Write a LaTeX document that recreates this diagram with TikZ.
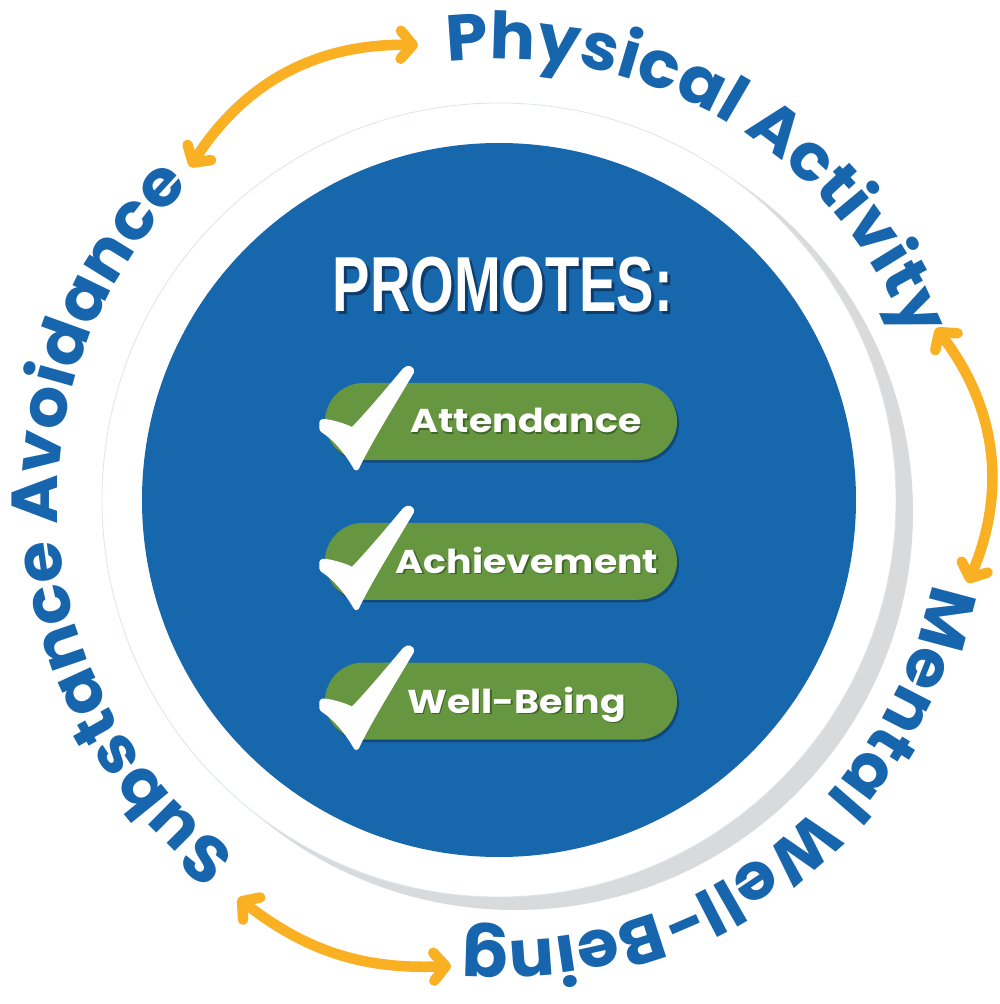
\documentclass[tikz,border=0pt]{standalone}
\usepackage{fontspec}
\usepackage{graphicx}
\usetikzlibrary{decorations.text,arrows.meta}
\newfontfamily\circfont{Poppins}[FakeStretch=1.04]
\newfontfamily\pillfont{Poppins}
\newfontfamily\promfont{Liberation Sans}
\definecolor{circblue}{HTML}{1767AD}
\definecolor{txtblue}{HTML}{1765AC}
\definecolor{arrorange}{HTML}{F9B123}
\definecolor{pillgreen}{HTML}{66963F}
\definecolor{pillshadow}{HTML}{11487C}
\definecolor{ringgrey}{HTML}{D9DADB}
\definecolor{rimline}{HTML}{DDE5EA}
\definecolor{promshadow}{HTML}{0E3C6A}
\definecolor{greentxtshadow}{HTML}{3F6427}
\newcommand\circtext{\circfont\bfseries\fontsize{65}{65}\selectfont}
\tikzset{
  pill/.style={fill=pillgreen, rounded corners=38.5pt, minimum width=352pt, minimum height=77pt, inner sep=0pt},
  pillsh/.style={fill=pillshadow, rounded corners=38.5pt, minimum width=352pt, minimum height=77pt, inner sep=0pt},
  pilltext/.style={text=white, font=\pillfont\bfseries\fontsize{33}{33}\selectfont, inner sep=0pt, anchor=base},
  pilltextsh/.style={text=greentxtshadow, font=\pillfont\bfseries\fontsize{33}{33}\selectfont, inner sep=0pt, anchor=base},
  arr/.style={draw=arrorange, line width=10.5pt, line cap=round,
    arrows={Straight Barb[length=12pt,width=28pt,round]-Straight Barb[length=12pt,width=28pt,round]}},
  circtxt/.style={decorate, decoration={text along path, text align=center, text color=txtblue}},
  checkmark/.pic={
    \fill[white] (-5.7,-3.5) .. controls (-6.5,1) and (-3.5,3) .. (0,2.5)
      .. controls (10,1) and (20,-2) .. (27,-5.5)
      .. controls (42,10) and (62,34) .. (78,53)
      .. controls (82,57.5) and (90,56) .. (89,49)
      .. controls (75,25) and (48,-18) .. (35,-45)
      .. controls (34,-49.5) and (29.5,-50.5) .. (28,-46)
      .. controls (20,-32) and (8,-18) .. (-3,-11)
      .. controls (-6,-9) and (-6,-6) .. cycle;
  }
}
\begin{document}
\begin{tikzpicture}[x=1pt,y=1pt]
\useasboundingbox (-499,-504) rectangle (501,500);
\fill[white] (-499,-504) rectangle (501,500);
% rings
\fill[ringgrey] (16,-12) circle[radius=398];
\fill[white] (0,0) circle[radius=397];
\draw[rimline, line width=0.8pt] (0,0) circle[radius=397];
\fill[circblue] (0,0) circle[radius=357];

% title
\node[text=promshadow, inner sep=0pt, anchor=base] (promsh) at (7,185) {\promfont\bfseries\fontsize{78}{78}\selectfont\scalebox{0.72}[1]{PROMOTES:}};
\node[text=white, inner sep=0pt, anchor=base] (prom) at (4,188) {\promfont\bfseries\fontsize{78}{78}\selectfont\scalebox{0.72}[1]{PROMOTES:}};

% pills
\node[pillsh] (p1s) at (4,76) {};
\node[pill] (p1) at (2,78.5) {};
\node[pillsh] (p2s) at (4,-63.75) {};
\node[pill] (p2) at (2,-61.25) {};
\node[pillsh] (p3s) at (4,-203.5) {};
\node[pill] (p3) at (2,-201) {};

\node[pilltextsh] (t1s) at (28.5,65.5) {\scalebox{1.15}[1]{Attendance}};
\node[pilltext] (t1) at (27,67) {\scalebox{1.15}[1]{Attendance}};
\node[pilltextsh] (t2s) at (29.5,-74.5) {\scalebox{1.15}[1]{Achievement}};
\node[pilltext] (t2) at (28,-73) {\scalebox{1.15}[1]{Achievement}};
\node[pilltextsh] (t3s) at (19,-214.5) {\scalebox{1.15}[1]{Well-Being}};
\node[pilltext] (t3) at (17.5,-213) {\scalebox{1.15}[1]{Well-Being}};

\pic (c1) at (-174,78.5) {checkmark};
\pic (c2) at (-174,-61.25) {checkmark};
\pic (c3) at (-174,-201) {checkmark};

% circular texts
\path[circtxt, decoration={text={|\circtext|Physical Activity}}] (129:441) arc[start angle=129, end angle=-11, radius=441];
\path[circtxt, decoration={text={|\circtext|Mental Well-Being}}] (17.2:441) arc[start angle=17.2, end angle=-122.8, radius=441];
\path[circtxt, decoration={text={|\circtext|Substance Avoidance}}] (254:441) arc[start angle=254, end angle=114, radius=441];

% arrows
\coordinate (a1s) at (-309,333);
\coordinate (a1e) at (-81,455);
\coordinate (a2s) at (437,172);
\coordinate (a2e) at (469,-83);
\coordinate (a3s) at (-48,-466);
\coordinate (a3e) at (-261,-398);
\draw[arr] (a1s) to[bend left=29] (a1e);
\draw[arr] (a2s) to[bend left=30] (a2e);
\draw[arr] (a3s) to[bend left=20] (a3e);
\end{tikzpicture}
\end{document}
